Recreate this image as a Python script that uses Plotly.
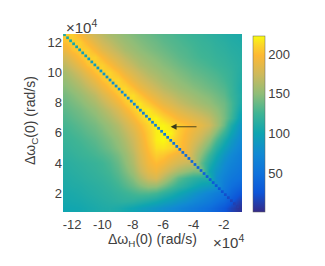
import numpy as np
import plotly.graph_objects as go

W, H = 325, 266
x_vals = [-12.5 + 0.5 * i for i in range(24)]
y_vals = [12.5 - 0.5 * i for i in range(24)]
z_rows = [
[208,208,197,185,175,168,160,155,150,146,142,139,135,132,130,127,125,122,120,117,115,112,110,108],
[202,208,208,197,185,175,168,160,155,150,146,142,139,135,132,130,127,125,122,120,117,115,112,110],
[190,202,208,208,197,185,176,168,160,155,150,146,142,139,135,132,130,127,124,122,119,117,114,112],
[178,190,202,209,209,198,186,177,169,161,156,151,147,143,139,135,132,129,126,124,121,119,116,113],
[168,178,190,202,209,209,199,187,178,170,162,157,152,148,144,140,136,133,130,127,124,121,118,114],
[160,168,178,190,202,210,210,200,188,179,171,163,158,153,149,145,141,137,134,131,128,124,120,113],
[153,160,168,178,190,202,210,211,201,189,180,172,165,159,154,150,146,142,139,135,132,127,121,112],
[147,153,160,168,178,190,202,211,212,202,191,182,174,167,161,156,152,148,144,140,136,131,123,110],
[142,147,153,160,168,179,191,203,212,214,204,193,184,176,170,164,159,155,150,146,141,135,124,112],
[138,142,147,153,160,169,180,192,204,214,216,206,196,187,180,173,167,162,157,152,146,140,128,110],
[134,138,142,147,153,161,170,181,194,206,216,218,208,199,191,184,177,172,166,160,152,142,128,105],
[130,134,138,142,147,154,162,172,183,196,208,218,220,212,204,196,190,184,178,170,158,143,125,98],
[127,130,134,138,142,148,155,164,175,187,199,211,220,221,215,208,202,194,186,176,160,138,110,88],
[124,127,130,134,138,143,150,158,168,180,193,207,219,222,220,208,197,188,178,165,145,122,100,82],
[122,124,127,130,134,139,145,153,163,175,189,205,219,222,214,205,195,183,170,152,130,108,90,76],
[119,122,124,127,130,135,141,149,158,171,186,201,215,216,212,205,192,176,158,138,115,96,82,70],
[117,119,122,124,127,130,135,143,153,166,182,197,208,205,197,190,190,170,148,124,104,86,74,64],
[114,116,118,120,122,125,130,138,149,162,178,193,200,195,185,178,172,170,136,112,94,78,68,60],
[112,114,116,118,120,123,127,134,144,156,172,186,192,182,170,160,152,145,145,102,86,72,62,55],
[110,112,114,116,118,120,124,130,138,148,162,175,180,166,150,135,125,118,112,112,80,66,56,50],
[108,110,111,113,115,117,120,125,131,138,146,153,152,142,130,120,112,104,96,90,84,60,48,40],
[106,107,109,111,113,115,117,120,123,127,130,130,126,118,110,102,94,86,78,70,62,54,40,28],
[104,105,106,108,110,112,114,116,117,116,113,109,104,98,92,86,80,73,66,59,50,42,28,14],
[101,102,103,105,107,109,110,108,104,100,95,90,85,80,75,70,64,58,52,46,38,28,16,6],
]
diag_vals = [108,106,104,102,100,98,96,95,93,91,90,88,86,85,83,82,80,78,77,75,
             74,72,71,69,68,66,65,63,62,60,59,57,56,54,53,51,50,48,47,45,
             44,42,41,39,38,36,35,33,32,30,28,26,24,22,20,17,14,11,8,4]
diag_x = [-12.5 + 0.2 * i for i in range(60)]
diag_y = [12.5 - 0.2 * i for i in range(60)]
x_ticks = [-12, -10, -8, -6, -4, -2]
x_labels = ["-12", "-10", "-8", "-6", "-4", "-2"]
y_ticks = [2, 4, 6, 8, 10, 12]
bar_ticks = [50, 100, 150, 200]

parula = [[0,"#352a87"],[0.11,"#0d55d8"],[0.22,"#0f72dc"],[0.33,"#1189d3"],[0.45,"#0fa5b0"],
          [0.56,"#3fb494"],[0.67,"#8fbd78"],[0.78,"#cdb95c"],[0.89,"#fdb834"],[0.95,"#fcd62a"],[1,"#f9fb0e"]]

TXT = "#404040"
FONT = "Liberation Sans, Arial, sans-serif"
fig = go.Figure()
fig.add_trace(go.Heatmap(x=x_vals, y=y_vals, z=z_rows, zsmooth="best", coloraxis="coloraxis"))
fig.add_trace(go.Scatter(x=diag_x, y=diag_y, mode="markers",
    marker=dict(symbol="square", size=2.7, color=diag_vals, coloraxis="coloraxis", line=dict(width=0)),
    hoverinfo="skip", showlegend=False))
fig.update_layout(
    width=W, height=H, margin=dict(l=0, r=0, t=0, b=0, autoexpand=False),
    paper_bgcolor="white", plot_bgcolor="white",
    font=dict(family=FONT, size=13, color=TXT),
    showlegend=False,
    xaxis=dict(domain=[63/W, 242/W], range=[-12.6, -0.8], tickvals=x_ticks, ticktext=x_labels, showgrid=False,
               zeroline=False, ticks="", ticklabelstandoff=3, tickfont=dict(size=13, color=TXT), showline=False),
    yaxis=dict(domain=[1-212/H, 1-34/H], range=[0.75, 12.55], tickvals=y_ticks, showgrid=False, zeroline=False,
               ticks="", tickfont=dict(size=13, color=TXT), showline=False),
    coloraxis=dict(colorscale=parula, cmin=1, cmax=223, colorbar=dict(
        x=253/W, xanchor="left", thickness=12, thicknessmode="pixels",
        y=1-36/H, yanchor="top", len=175.5, lenmode="pixels",
        tickvals=bar_ticks, ticks="", outlinecolor="#606060", outlinewidth=0.5,
        tickfont=dict(size=13, color=TXT), xpad=0, ypad=0)),
    annotations=[
        dict(x=-5.5, y=6.4, ax=-3.7, ay=6.4, xref="x", yref="y", axref="x", ayref="y", text="",
             showarrow=True, arrowhead=2, arrowsize=1.3, arrowwidth=0.9, arrowcolor="#3a3a1a"),
        dict(xref="paper", yref="paper", x=64/W, y=1-27/H, xanchor="left", yanchor="middle",
             text="×10<sup>4</sup>", showarrow=False, font=dict(size=15, color=TXT)),
        dict(xref="paper", yref="paper", x=211/W, y=1-241/H, xanchor="left", yanchor="middle",
             text="×10<sup>4</sup>", showarrow=False, font=dict(size=15, color=TXT)),
        dict(xref="paper", yref="paper", x=152/W, y=1-240/H, xanchor="center", yanchor="middle",
             text="Δω<sub>H</sub>(0) (rad/s)", showarrow=False, font=dict(size=14, color=TXT)),
        dict(xref="paper", yref="paper", x=31/W, y=1-121/H, xanchor="center", yanchor="middle", textangle=-90,
             text="Δω<sub>C</sub>(0) (rad/s)", showarrow=False, font=dict(size=14, color=TXT)),
    ],
)
fig.write_html("out.html", config=dict(displayModeBar=False),
               post_script="document.body.style.margin='0';")
